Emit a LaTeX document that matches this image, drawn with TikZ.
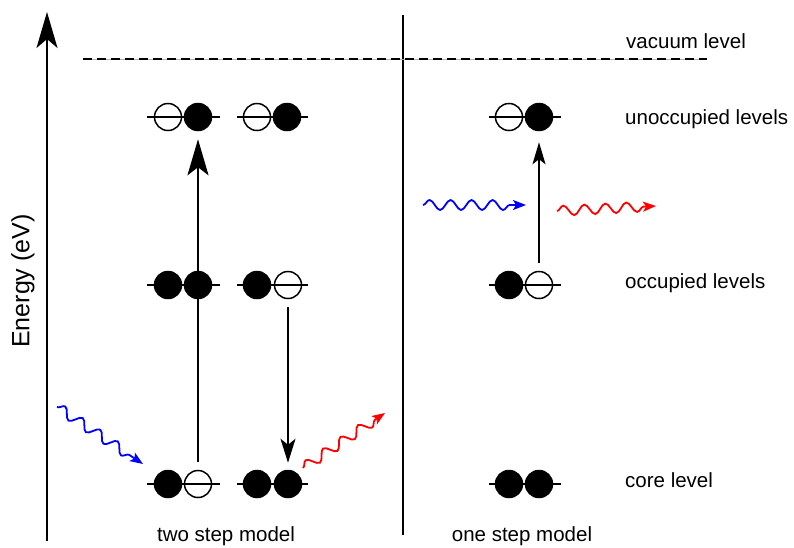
\documentclass[tikz,border=0pt]{standalone}
\usepackage{fontspec}
\setmainfont{Liberation Sans}
\usetikzlibrary{arrows.meta,decorations.pathmorphing}
\begin{document}
\begin{tikzpicture}[x=1pt,y=-1pt,
  lvl/.style={line width=2pt},
  full/.style={circle,draw,fill=black,line width=1.5pt,minimum size=27pt,inner sep=0pt},
  hole/.style={circle,draw,line width=1.5pt,minimum size=27pt,inner sep=0pt},
  lbl/.style={anchor=base west,font=\fontsize{20.5}{24}\selectfont,inner sep=0pt},
  captxt/.style={anchor=base,font=\fontsize{20.5}{24}\selectfont,inner sep=0pt},
  photon/.style={decorate,decoration={snake,amplitude=5pt,segment length=21pt,post length=12pt},line width=1.8pt,-{Stealth[length=13pt,width=10pt,inset=3pt]}},
  trans/.style={line width=1.8pt,-{Stealth[length=24pt,width=15pt,inset=6pt]}}]
\useasboundingbox (0,0) rectangle (794,547);

% axis and divider
\coordinate (axb) at (47,541);
\coordinate (axt) at (47,12);
\draw[line width=2.2pt,-{Stealth[length=36pt,width=21pt,inset=9pt]}] (axb) -- (axt);
\coordinate (dvt) at (403,15);
\coordinate (dvb) at (403,535);
\draw[line width=2.2pt] (dvt) -- (dvb);
\node[rotate=90,font=\fontsize{25}{28}\selectfont] (elab) at (23,281) {Energy (eV)};

% vacuum level
\coordinate (vl) at (83,59);
\coordinate (vr) at (707,59);
\draw[gray!60,line width=0.6pt] (vl) -- (vr);
\draw[line width=2.2pt,dash pattern=on 9pt off 5pt] (vl) -- (vr);

% level lines
\foreach \y in {117,285,484}{
  \draw[lvl] (147,\y) -- (220,\y);
  \draw[lvl] (237,\y) -- (308,\y);
  \draw[lvl] (489,\y) -- (561,\y);
}

% unoccupied
\node[hole] (ua1) at (168,117) {};
\node[full] (ua2) at (198,117) {};
\node[hole] (ub1) at (257,117) {};
\node[full] (ub2) at (287,117) {};
\node[hole] (uc1) at (509,117) {};
\node[full] (uc2) at (539,117) {};
% occupied
\node[full] (oa1) at (168,285) {};
\node[full] (oa2) at (198,285) {};
\node[full] (ob1) at (257,285) {};
\node[hole] (ob2) at (288,285) {};
\node[full] (oc1) at (509,285) {};
\node[hole] (oc2) at (539,285) {};
% core
\node[full] (ca1) at (168,484) {};
\node[hole] (ca2) at (198,484) {};
\node[full] (cb1) at (257,484) {};
\node[full] (cb2) at (288,484) {};
\node[full] (cc1) at (509,484) {};
\node[full] (cc2) at (539,484) {};

% transitions
\draw[line width=2.2pt,-{Stealth[length=36pt,width=21pt,inset=8pt]},shorten <=8pt,shorten >=8pt] (ca2) -- (ua2);
\draw[trans,line width=1.8pt,shorten <=8pt,shorten >=7pt] (ob2) -- (cb2);
\draw[line width=1.6pt,-{Stealth[length=22pt,width=13pt,inset=5pt]},shorten <=8pt,shorten >=11pt] (oc2) -- (uc2);

% photons
\coordinate (p1s) at (57,407);  \coordinate (p1e) at (143,464);
\coordinate (p2s) at (303,468); \coordinate (p2e) at (385,413);
\coordinate (p3s) at (423,205); \coordinate (p3e) at (526,205);
\coordinate (p4s) at (557,211); \coordinate (p4e) at (656,206);
\draw[photon,blue] (p1s) -- (p1e);
\draw[photon,red] (p2s) -- (p2e);
\draw[photon,blue] (p3s) -- (p3e);
\draw[photon,red] (p4s) -- (p4e);

% labels
\node[lbl] (t1) at (626,48) {vacuum level};
\node[lbl] (t2) at (625,124) {unoccupied levels};
\node[lbl] (t3) at (625,288) {occupied levels};
\node[lbl] (t4) at (625,487) {core level};
\node[captxt] (m1) at (226,541) {two step model};
\node[captxt] (m2) at (522,541) {one step model};
\end{tikzpicture}
\end{document}
